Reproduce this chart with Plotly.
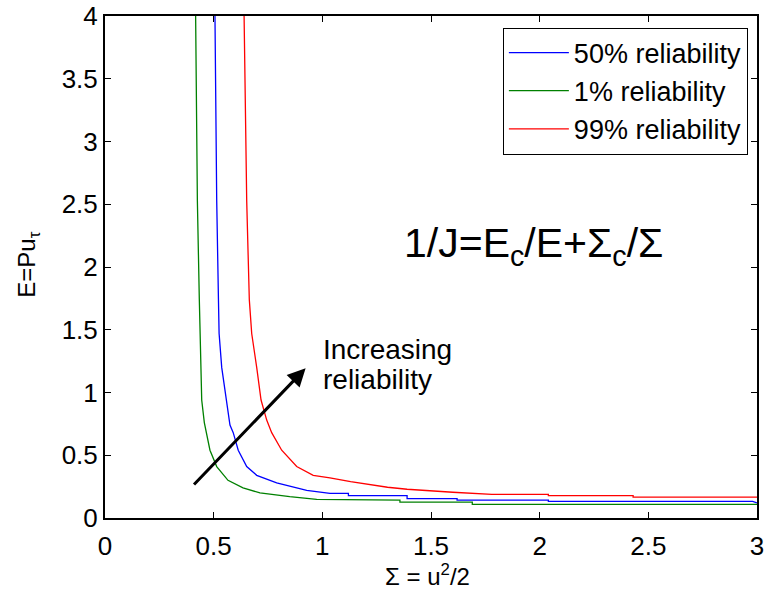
import plotly.graph_objects as go

# 50% reliability
x_50 = [0.506, 0.514, 0.522, 0.525, 0.537, 0.557, 0.575, 0.590, 0.613, 0.652, 0.698, 0.790, 0.928, 1.035,
        1.12, 1.12, 1.39, 1.39, 1.62, 1.62, 2.04, 2.04, 2.98, 3.0]
y_50 = [4.0, 2.53, 1.74, 1.47, 1.20, 0.94, 0.74, 0.68, 0.54, 0.41, 0.34, 0.28, 0.22, 0.197,
        0.197, 0.178, 0.178, 0.154, 0.154, 0.143, 0.143, 0.133, 0.133, 0.12]
# 1% reliability
x_1 = [0.417, 0.425, 0.434, 0.437, 0.445, 0.457, 0.483, 0.514, 0.566, 0.635, 0.713, 0.85, 0.974,
       1.357, 1.357, 1.69, 1.69, 3.0]
y_1 = [4.0, 2.53, 1.74, 1.47, 0.94, 0.76, 0.54, 0.41, 0.30, 0.24, 0.20, 0.17, 0.149,
       0.143, 0.127, 0.127, 0.109, 0.109]
# 99% reliability
x_99 = [0.640, 0.652, 0.664, 0.675, 0.698, 0.718, 0.744, 0.767, 0.813, 0.882, 0.958, 1.035, 1.13, 1.22,
        1.30, 1.39, 1.48, 1.60, 1.78, 2.04, 2.04, 2.43, 2.43, 3.0]
y_99 = [4.0, 2.53, 1.74, 1.47, 1.20, 0.94, 0.78, 0.68, 0.54, 0.41, 0.34, 0.32, 0.289, 0.263,
        0.245, 0.229, 0.218, 0.205, 0.189, 0.189, 0.178, 0.178, 0.167, 0.167]

x_ticks = [0, 0.5, 1, 1.5, 2, 2.5, 3]
x_tick_labels = ["0", "0.5", "1", "1.5", "2", "2.5", "3"]
y_ticks = [0, 0.5, 1, 1.5, 2, 2.5, 3, 3.5, 4]
y_tick_labels = ["0", "0.5", "1", "1.5", "2", "2.5", "3", "3.5", "4"]

arrow_tail = (0.403, 0.255)
arrow_head = (0.923, 1.193)

FONT = "Liberation Sans, Arial, sans-serif"

fig = go.Figure()
fig.add_trace(go.Scatter(x=x_50, y=y_50, mode="lines", name="50% reliability",
                         line=dict(color="#0000ff", width=1.3)))
fig.add_trace(go.Scatter(x=x_1, y=y_1, mode="lines", name="1% reliability",
                         line=dict(color="#008000", width=1.3)))
fig.add_trace(go.Scatter(x=x_99, y=y_99, mode="lines", name="99% reliability",
                         line=dict(color="#ff0000", width=1.3)))

axis_common = dict(showgrid=False, zeroline=False, showline=True, linecolor="black", linewidth=2,
                   mirror="ticks", ticks="inside", ticklen=6, tickcolor="black", tickwidth=1,
                   automargin=False, ticklabeloverflow="allow",
                   tickfont=dict(family=FONT, size=26, color="black"))
fig.update_xaxes(range=[0, 3], tickvals=x_ticks, ticktext=x_tick_labels,
                 ticklabelstandoff=4, **axis_common)
fig.update_yaxes(range=[0, 4], tickvals=y_ticks, ticktext=y_tick_labels, **axis_common)

# axis titles
fig.add_annotation(x=0.495, y=-0.114, xref="paper", yref="paper",
                   text="Σ = u<sup>2</sup>/2", showarrow=False,
                   xanchor="center", yanchor="middle",
                   font=dict(family=FONT, size=24, color="black"))
fig.add_annotation(x=-0.117, y=0.504, xref="paper", yref="paper",
                   text="E=Pu<sub>τ</sub>", showarrow=False, textangle=-90,
                   xanchor="center", yanchor="middle",
                   font=dict(family=FONT, size=24, color="black"))

fig.add_annotation(x=arrow_head[0], y=arrow_head[1], ax=arrow_tail[0], ay=arrow_tail[1],
                   xref="x", yref="y", axref="x", ayref="y", text="", showarrow=True,
                   arrowhead=2, arrowsize=1.2, arrowwidth=3, arrowcolor="black")
fig.add_annotation(x=0.995, y=1.34, xref="x", yref="y", text="Increasing",
                   showarrow=False, xanchor="left", yanchor="middle", align="left",
                   font=dict(family=FONT, size=28, color="black"))
fig.add_annotation(x=0.995, y=1.10, xref="x", yref="y", text="reliability",
                   showarrow=False, xanchor="left", yanchor="middle", align="left",
                   font=dict(family=FONT, size=28, color="black"))
fig.add_annotation(x=1.97, y=2.17, xref="x", yref="y",
                   text="1/J=E<sub>c</sub>/E+Σ<sub>c</sub>/Σ",
                   showarrow=False, xanchor="center", yanchor="middle",
                   font=dict(family=FONT, size=41, color="black"))

fig.update_layout(
    width=769, height=595,
    margin=dict(l=105, r=12, t=16, b=77),
    paper_bgcolor="white", plot_bgcolor="white",
    showlegend=True,
    legend=dict(x=0.986, y=0.977, xanchor="right", yanchor="top",
                bgcolor="white", bordercolor="black", borderwidth=1,
                font=dict(family=FONT, size=27, color="black"),
                itemwidth=60, tracegroupgap=0),
)

# remove the browser's default 8px body margin so the figure sits at the page origin
fig.write_html("out.html", config={"displayModeBar": False},
               post_script="document.body.style.margin='0px';")
